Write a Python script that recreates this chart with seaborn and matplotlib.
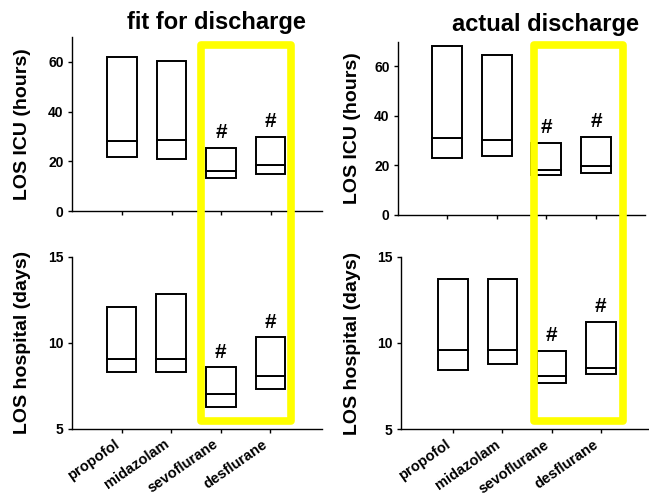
import numpy as np
import pandas as pd
import seaborn as sns
import matplotlib.pyplot as plt
from matplotlib.patches import Rectangle
from matplotlib.transforms import ScaledTranslation

# Anaesthetic groups
drugs = ["propofol", "midazolam", "sevoflurane", "desflurane"]

# Length of ICU stay (hours): 25th percentile, median, 75th percentile
icu_fit_q1 = [21.7, 21.0, 13.4, 14.9]
icu_fit_med = [28.3, 28.6, 16.2, 18.6]
icu_fit_q3 = [61.9, 60.5, 25.5, 29.8]

icu_act_q1 = [23.2, 23.9, 16.2, 17.1]
icu_act_med = [31.3, 30.4, 18.3, 19.8]
icu_act_q3 = [68.1, 64.8, 29.0, 31.6]

# Length of hospital stay (days): 25th percentile, median, 75th percentile
hosp_fit_q1 = [8.28, 8.28, 6.28, 7.29]
hosp_fit_med = [9.05, 9.05, 7.02, 8.06]
hosp_fit_q3 = [12.06, 12.85, 8.57, 10.31]

hosp_act_q1 = [8.44, 8.79, 7.67, 8.19]
hosp_act_med = [9.58, 9.58, 8.07, 8.57]
hosp_act_q3 = [13.7, 13.7, 9.54, 11.22]

# Significant difference versus propofol / midazolam
significant = [False, False, True, True]

col_titles = ["fit for discharge", "actual discharge"]
icu_label = "LOS ICU (hours)"
hosp_label = "LOS hospital (days)"

sns.set_theme(style="ticks")
plt.rcParams["font.family"] = ["Liberation Sans", "DejaVu Sans"]
plt.rcParams["font.weight"] = "bold"
plt.rcParams["axes.labelweight"] = "bold"
plt.rcParams["text.color"] = "black"
plt.rcParams["axes.labelcolor"] = "black"

fig = plt.figure(figsize=(6.49, 4.95), dpi=100)
W, H = 649.0, 495.0


def px_axes(x0, x1, ytop, ybot):
    return fig.add_axes([x0 / W, 1 - ybot / H, (x1 - x0) / W, (ybot - ytop) / H])


ax_tl = px_axes(72, 322, 37, 211)
ax_tr = px_axes(398, 645, 41.7, 215)
ax_bl = px_axes(72, 322, 256.7, 428.7)
ax_br = px_axes(401, 649, 256.7, 429.3)


def draw_panel(ax, q1, med, q3, ylim, yticks, ylabel, show_xlabels, xlim):
    df = pd.DataFrame({
        "drug": drugs,
        "q1": q1,
        "med": med,
        "lower": np.subtract(med, q1),
        "upper": np.subtract(q3, med),
    })
    common = dict(data=df, x="drug", order=drugs, width=0.6, color="white",
                  saturation=1, edgecolor="black", linewidth=1.4,
                  errorbar=None, ax=ax)
    sns.barplot(y="lower", bottom=df["q1"].to_numpy(), **common)
    sns.barplot(y="upper", bottom=df["med"].to_numpy(), **common)

    for i, (top, sig) in enumerate(zip(q3, significant)):
        if sig:
            ax.annotate("#", xy=(i, top), xytext=(0, 11), textcoords="offset points",
                        ha="center", va="center", fontsize=15, fontweight="bold")

    ax.set_ylim(*ylim)
    ax.set_xlim(*xlim)
    ax.set_yticks(yticks)
    ax.set_yticklabels([str(t) for t in yticks], fontsize=10, fontweight="bold")
    ax.set_ylabel(ylabel, fontsize=14, fontweight="bold")
    ax.set_xlabel("")
    ax.set_xticks(range(len(drugs)))
    if show_xlabels:
        ax.set_xticklabels(drugs, rotation=35, ha="right", fontsize=10.5,
                           fontweight="bold")
        shift = ScaledTranslation(5 / 100, 0, fig.dpi_scale_trans)
        for lab in ax.get_xticklabels():
            lab.set_transform(lab.get_transform() + shift)
    else:
        ax.set_xticklabels([])
    ax.tick_params(axis="both", direction="out", length=3, width=1, colors="black", pad=3)
    sns.despine(ax=ax)
    for s in ("left", "bottom"):
        ax.spines[s].set_linewidth(1.0)
        ax.spines[s].set_color("black")
    ax.set_facecolor("white")


draw_panel(ax_tl, icu_fit_q1, icu_fit_med, icu_fit_q3, (0, 70), [0, 20, 40, 60],
           icu_label, False, (-1.01, 4.04))
draw_panel(ax_tr, icu_act_q1, icu_act_med, icu_act_q3, (0, 70), [0, 20, 40, 60],
           icu_label, False, (-0.98, 3.98))
draw_panel(ax_bl, hosp_fit_q1, hosp_fit_med, hosp_fit_q3, (5, 15), [5, 10, 15],
           hosp_label, True, (-1.0, 4.04))
draw_panel(ax_br, hosp_act_q1, hosp_act_med, hosp_act_q3, (5, 15), [5, 10, 15],
           hosp_label, True, (-1.06, 3.98))

ax_tl.yaxis.set_label_coords(-0.165, 0.5)
ax_tr.yaxis.set_label_coords(-0.15, 0.5)
ax_bl.yaxis.set_label_coords(-0.165, 0.5)
ax_br.yaxis.set_label_coords(-0.16, 0.5)

# Column headings
fig.text(216.7 / W, 1 - 22.5 / H, col_titles[0], ha="center", va="center",
         fontsize=17, fontweight="bold")
fig.text(545 / W, 1 - 24 / H, col_titles[1], ha="center", va="center",
         fontsize=17, fontweight="bold")

# Highlight frames around the inhalational groups
for x0, x1 in [(200.5, 291.0), (533.7, 623.0)]:
    fig.patches.append(Rectangle((x0 / W, 1 - 421 / H), (x1 - x0) / W, (421 - 45) / H,
                                 transform=fig.transFigure, fill=False,
                                 edgecolor="#ffff00", linewidth=5.5,
                                 joinstyle="round", zorder=10))

fig.savefig("out.png", dpi=100, facecolor="white")
